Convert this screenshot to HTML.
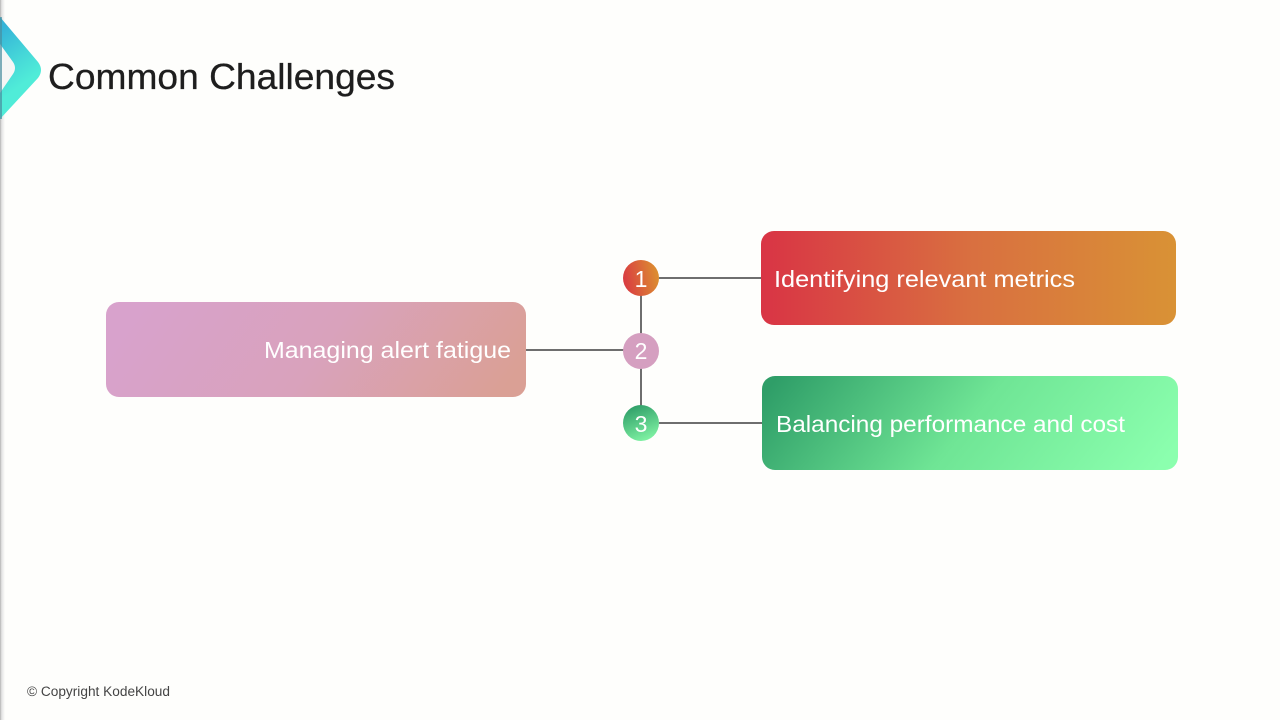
<!DOCTYPE html>
<html><head><meta charset="utf-8"><style>
html,body{margin:0;padding:0;width:1280px;height:720px;overflow:hidden;background:#fefefc}
svg{display:block}
text{font-family:"Liberation Sans","DejaVu Sans",sans-serif}
</style></head><body>
<svg width="1280" height="720" viewBox="0 0 1280 720" xmlns="http://www.w3.org/2000/svg">
<defs>
<linearGradient id="edge" x1="0" x2="1" y1="0" y2="0"><stop offset="0" stop-color="#9a9a9a"/><stop offset="0.35" stop-color="#dcdcdc"/><stop offset="1" stop-color="#fefefc"/></linearGradient>
<linearGradient id="chev" gradientUnits="userSpaceOnUse" x1="0" y1="30" x2="34" y2="76"><stop offset="0" stop-color="#35b4d8"/><stop offset="0.6" stop-color="#46d8d8"/><stop offset="1" stop-color="#50ecd8"/></linearGradient>
<linearGradient id="pink" gradientUnits="userSpaceOnUse" x1="180" y1="250" x2="460" y2="450"><stop offset="0" stop-color="#d8a2cc"/><stop offset="0.5" stop-color="#d9a2bc"/><stop offset="1" stop-color="#daa095"/></linearGradient>
<linearGradient id="red" x1="0" x2="1" y1="0" y2="0"><stop offset="0" stop-color="#d93445"/><stop offset="0.5" stop-color="#d96f40"/><stop offset="1" stop-color="#d99235"/></linearGradient>
<linearGradient id="green" gradientUnits="userSpaceOnUse" x1="830" y1="310" x2="1110" y2="530"><stop offset="0" stop-color="#2f9e68"/><stop offset="0.5" stop-color="#6fe595"/><stop offset="1" stop-color="#8bffae"/></linearGradient>
<linearGradient id="c1" x1="0" x2="1" y1="0.6" y2="0.4"><stop offset="0" stop-color="#d93a42"/><stop offset="1" stop-color="#dc9030"/></linearGradient>
<linearGradient id="c3" x1="0.3" x2="0.7" y1="0" y2="1"><stop offset="0" stop-color="#2f9e68"/><stop offset="1" stop-color="#82f5a5"/></linearGradient>
</defs>
<rect x="0" y="0" width="5" height="720" fill="url(#edge)" opacity=".75"/>
<path d="M0 17 L38 62 Q44 70 38 78 L0 119 Z" fill="url(#chev)"/>
<path d="M0 44 L13 62 Q17 68 13 74 L0 93 Z" fill="#f6f6f5"/>
<rect x="0" y="17" width="2" height="102" fill="#4a8fa0" opacity=".7"/>
<text x="48" y="89" font-size="36" fill="#1e1e1e" stroke="#1e1e1e" stroke-width=".3" textLength="347" lengthAdjust="spacingAndGlyphs">Common Challenges</text>

<g stroke="#6e6e6e" stroke-width="2" fill="none">
<line x1="641" y1="278" x2="641" y2="423"/>
<line x1="659" y1="278" x2="762" y2="278"/>
<line x1="526" y1="350" x2="624" y2="350"/>
<line x1="659" y1="423" x2="763" y2="423"/>
</g>

<rect x="106" y="302" width="420" height="95" rx="13" fill="url(#pink)"/>
<rect x="761" y="231" width="415" height="94" rx="13" fill="url(#red)"/>
<rect x="762" y="376" width="416" height="94" rx="13" fill="url(#green)"/>

<circle cx="641" cy="278" r="18" fill="url(#c1)"/>
<circle cx="641" cy="351" r="18" fill="#d59fc0"/>
<circle cx="641" cy="423" r="18" fill="url(#c3)"/>

<g fill="#fff" font-size="23">
<text x="641" y="287" text-anchor="middle">1</text>
<text x="641" y="359" text-anchor="middle">2</text>
<text x="641" y="432" text-anchor="middle">3</text>
<text x="264" y="358" textLength="247" lengthAdjust="spacingAndGlyphs">Managing alert fatigue</text>
<text x="774" y="287" textLength="301" lengthAdjust="spacingAndGlyphs">Identifying relevant metrics</text>
<text x="776" y="432" textLength="349" lengthAdjust="spacingAndGlyphs">Balancing performance and cost</text>
</g>
<text x="27" y="696" font-size="13.500" fill="#444" textLength="143" lengthAdjust="spacingAndGlyphs">© Copyright KodeKloud</text>
</svg>
</body></html>
